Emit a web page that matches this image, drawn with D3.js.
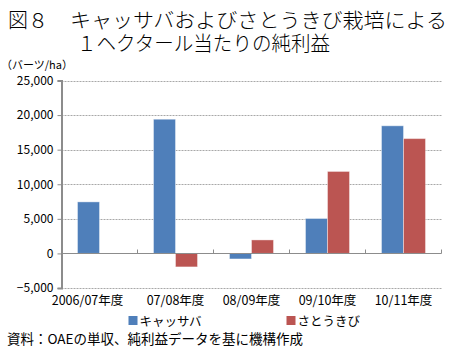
<!DOCTYPE html>
<html>
<head>
<meta charset="utf-8">
<script src="https://cdn.jsdelivr.net/npm/d3@7"></script>
<style>
  body { margin: 0; background: #fff; }
  text { font-family: "Noto Sans CJK JP", sans-serif; fill: #000; }
</style>
</head>
<body>
<div id="chart"></div>
<script>
var years = ["2006/07年度", "07/08年度", "08/09年度", "09/10年度", "10/11年度"];
var seriesNames = ["キャッサバ", "さとうきび"];
var cassava = [7450, 19400, -800, 5050, 18450];
var sugarcane = [0, -1950, 1950, 11850, 16600];
var yTicks = [-5000, 0, 5000, 10000, 15000, 20000, 25000];
var colors = ["#4f7fba", "#bb5552"];

var W = 456, H = 354;
var margin = { top: 80.5, bottom: 66, left: 61.5, right: 14.5 };

var svg = d3.select("#chart").append("svg")
  .attr("width", W).attr("height", H);

// title
svg.append("text").attr("x", 8).attr("y", 28)
  .attr("font-size", 20).attr("font-weight", 300).text("図８");
svg.append("text").attr("x", 70).attr("y", 28)
  .attr("font-size", 20).attr("font-weight", 300)
  .attr("textLength", 377).attr("lengthAdjust", "spacingAndGlyphs")
  .text("キャッサバおよびさとうきび栽培による");
svg.append("text").attr("x", 77).attr("y", 51)
  .attr("font-size", 20).attr("font-weight", 300)
  .attr("textLength", 253).attr("lengthAdjust", "spacingAndGlyphs")
  .text("１ヘクタール当たりの純利益");

// unit
svg.append("text").attr("x", 1).attr("y", 69)
  .attr("font-size", 11).text("（バーツ/ha）");

var x = d3.scaleBand().domain(years)
  .range([margin.left, W - margin.right]);
var xs = d3.scaleBand().domain(seriesNames)
  .range([0, x.bandwidth()]).paddingOuter(0.727);
var y = d3.scaleLinear().domain([-5000, 25000])
  .range([H - margin.bottom, margin.top]);

// grid
svg.append("g").selectAll("line")
  .data(yTicks.filter(function(d) { return d != 0; }))
  .enter().append("line")
  .attr("x1", margin.left).attr("x2", W - margin.right)
  .attr("y1", function(d) { return Math.round(y(d)) + 0.5; })
  .attr("y2", function(d) { return Math.round(y(d)) + 0.5; })
  .attr("stroke", "#a8a8a8").attr("stroke-width", 1)
  .attr("stroke-dasharray", "2,1");

// bars
var data = [];
years.forEach(function(yr, i) {
  data.push({ year: yr, s: seriesNames[0], v: cassava[i], c: colors[0] });
  data.push({ year: yr, s: seriesNames[1], v: sugarcane[i], c: colors[1] });
});
svg.append("g").selectAll("rect")
  .data(data.filter(function(d) { return d.v != 0; }))
  .enter().append("rect")
  .attr("x", function(d) { return x(d.year) + xs(d.s); })
  .attr("width", xs.bandwidth())
  .attr("y", function(d) { return Math.min(y(d.v), y(0)); })
  .attr("height", function(d) { return Math.abs(y(d.v) - y(0)); })
  .attr("fill", function(d) { return d.c; })
  .attr("stroke", "#fff").attr("stroke-opacity", 0.4).attr("stroke-width", 1);

// zero line + category ticks
var y0 = Math.round(y(0)) + 0.5;
svg.append("line")
  .attr("x1", margin.left).attr("x2", W - margin.right)
  .attr("y1", y0).attr("y2", y0)
  .attr("stroke", "#8c8c8c").attr("stroke-width", 1.2);
svg.append("g").selectAll("line")
  .data(years.slice(1).concat(["end"]))
  .enter().append("line")
  .attr("x1", function(d) { return d == "end" ? W - margin.right : x(d); })
  .attr("x2", function(d) { return d == "end" ? W - margin.right : x(d); })
  .attr("y1", y0 - 4).attr("y2", y0)
  .attr("stroke", "#8c8c8c").attr("stroke-width", 1);

// y axis
var yAxis = svg.append("g")
  .attr("transform", "translate(" + margin.left + ",0)")
  .call(d3.axisLeft(y).tickValues(yTicks).tickSize(4).tickPadding(4)
    .tickFormat(d3.format(",")));
yAxis.select(".domain").attr("stroke", "#8c8c8c").attr("stroke-width", 2);
yAxis.selectAll(".tick line").attr("stroke", "#8c8c8c");
yAxis.selectAll("text").attr("font-size", 12)
  .style("font-family", "'Noto Sans CJK JP', sans-serif").attr("fill", "#000");

// x labels
svg.append("g").selectAll("text")
  .data(years).enter().append("text")
  .attr("x", function(d) { return x(d) + x.bandwidth() / 2; })
  .attr("dx", function(d, i) { return i == 0 ? -12 : 0; })
  .attr("y", 305)
  .attr("text-anchor", "middle").attr("font-size", 12.5)
  .text(function(d) { return d; });

// legend
var legX = [128.5, 286.5];
var leg = svg.append("g").selectAll("g")
  .data(seriesNames).enter().append("g")
  .attr("transform", function(d, i) { return "translate(" + legX[i] + ",316)"; });
leg.append("rect").attr("width", 9).attr("height", 9)
  .attr("fill", function(d, i) { return colors[i]; });
leg.append("text").attr("x", 11).attr("y", 9.5)
  .attr("font-size", 12.5).text(function(d) { return d; });

// source
svg.append("text").attr("x", 7).attr("y", 344)
  .attr("font-size", 13.5).text("資料：OAEの単収、純利益データを基に機構作成");
</script>
</body>
</html>
